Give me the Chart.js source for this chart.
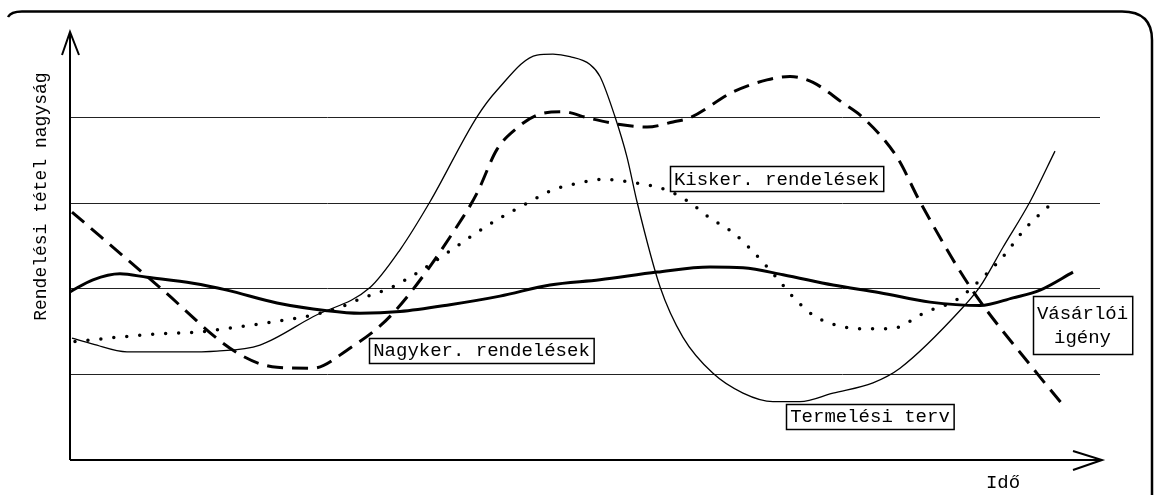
<html lang="hu">
<head>
	<meta charset="UTF-8">
	<title>Rendelési tétel nagyság</title>
	<style>
		html, body { margin: 0; padding: 0; background: #fff; }
		#chartBox { width: 1155px; height: 495px; position: relative; }
	</style>
</head>
<body>
	<div id="chartBox"><canvas id="lineChart"></canvas></div>

	<script src="https://cdn.jsdelivr.net/npm/chart.js"></script>
	<script>
		// idő tengely 0..103, érték tengely 0..5 (rácsvonalak 1..4-nél)
		const termelesX = [0.2, 2.3, 5.7, 11, 14.7, 19, 24.3, 30, 33, 36, 40.7, 42.7, 46.7, 48.3, 50, 52, 53, 54.5, 55.7, 56.7, 59, 61.3, 64.3, 67.3, 70.3, 73, 76.3, 80.3, 83, 89.3, 91, 93.3, 96, 98.5];
		const termelesY = [1.42, 1.35, 1.26, 1.26, 1.27, 1.34, 1.67, 2.01, 2.45, 3.01, 4.0, 4.31, 4.72, 4.73, 4.70, 4.61, 4.47, 4.0, 3.53, 3.01, 2.02, 1.43, 1.01, 0.78, 0.68, 0.68, 0.78, 0.90, 1.07, 1.78, 2.02, 2.48, 3.01, 3.60];

		const nagykerX = [0.2, 9, 16.7, 20.7, 24.3, 27.7, 32.3, 39.3, 40.7, 42.7, 44.7, 46.7, 49.3, 51.7, 55, 57.7, 60.3, 62, 66.3, 69.7, 72, 74.3, 77.3, 79.3, 82.7, 85, 90, 96.7, 99.3];
		const nagykerY = [2.89, 2.01, 1.25, 1.08, 1.07, 1.28, 1.71, 2.83, 3.11, 3.62, 3.87, 4.02, 4.06, 3.99, 3.91, 3.88, 3.94, 3.99, 4.29, 4.43, 4.47, 4.40, 4.16, 3.99, 3.53, 3.01, 2.02, 1.01, 0.64];

		const kiskerX = [0.5, 4.7, 9, 12.7, 16.7, 20.3, 24.3, 27, 29.3, 32.3, 42.7, 46, 48.3, 51, 53.3, 56, 58.7, 60, 62, 64, 66.3, 68.3, 70.7, 72.3, 74.3, 76.7, 79.3, 82, 85.7, 88.7, 91.3, 93.3, 95.7, 97.8];
		const kiskerY = [1.38, 1.43, 1.47, 1.49, 1.55, 1.61, 1.69, 1.78, 1.89, 2.02, 2.80, 3.01, 3.15, 3.23, 3.27, 3.24, 3.18, 3.13, 3.00, 2.82, 2.65, 2.43, 2.12, 1.90, 1.69, 1.57, 1.53, 1.53, 1.73, 1.87, 2.13, 2.37, 2.72, 2.95];

		const igenyX = [0, 2.3, 5, 7.7, 12.3, 15.7, 20.7, 25.7, 29, 33, 38, 43, 48, 53, 58.7, 64, 67.3, 71.3, 76.3, 81, 86, 91, 94.3, 97, 100.3];
		const igenyY = [1.96, 2.10, 2.17, 2.13, 2.06, 1.98, 1.83, 1.74, 1.71, 1.73, 1.81, 1.91, 2.04, 2.10, 2.19, 2.25, 2.24, 2.16, 2.04, 1.95, 1.84, 1.80, 1.89, 1.98, 2.19];

		const gridValues = [1, 2, 3, 4];

		// feliratok (szöveg, középpont az adatkoordinátákban)
		const labelTexts = [['Nagyker. rendelések'], ['Kisker. rendelések'], ['Termelési terv'], ['Vásárlói', 'igény']];
		const labelX = [41.15, 70.65, 80, 101.25];
		const labelY = [1.28, 3.28, 0.51, 1.57];

		const axisTitleY = 'Rendelési tétel nagyság';
		const axisTitleX = 'Idő';

		function toPoints(xs, ys) {
			return xs.map((x, i) => ({ x: x, y: ys[i] }));
		}

		const monoFont = '"Liberation Mono", "DejaVu Sans Mono", monospace';

		const decorPlugin = {
			id: 'decor',
			beforeDatasetsDraw(chart) {
				const ctx = chart.ctx;
				const xs = chart.scales.x, ys = chart.scales.y;
				const left = xs.getPixelForValue(0), right = chart.chartArea.right;
				const bottom = ys.getPixelForValue(0), top = ys.getPixelForValue(5);
				ctx.save();
				// keret (felül és jobb oldalt lekerekítve)
				ctx.strokeStyle = '#000';
				ctx.lineWidth = 2.5;
				ctx.beginPath();
				ctx.moveTo(8, 17);
				ctx.quadraticCurveTo(11, 11.5, 22, 11.5);
				ctx.lineTo(1122, 11.5);
				ctx.quadraticCurveTo(1152, 11.5, 1152, 40);
				ctx.lineTo(1152, 495);
				ctx.stroke();
				// rácsvonalak
				ctx.strokeStyle = '#222';
				ctx.lineWidth = 1;
				gridValues.forEach(v => {
					const py = Math.round(ys.getPixelForValue(v)) + 0.5;
					ctx.beginPath();
					ctx.moveTo(left, py);
					ctx.lineTo(right, py);
					ctx.stroke();
				});
				// tengelyek nyíllal
				ctx.strokeStyle = '#000';
				ctx.lineWidth = 2;
				ctx.beginPath();
				ctx.moveTo(left, bottom);
				ctx.lineTo(left, top + 1);
				ctx.moveTo(left - 8, top + 24);
				ctx.lineTo(left, top + 1);
				ctx.lineTo(left + 9, top + 24);
				ctx.moveTo(left, bottom);
				ctx.lineTo(right + 2, bottom);
				ctx.moveTo(right - 27, bottom - 9);
				ctx.lineTo(right + 2, bottom);
				ctx.lineTo(right - 27, bottom + 10);
				ctx.stroke();
				// tengelyfeliratok
				ctx.fillStyle = '#000';
				ctx.font = '19px ' + monoFont;
				ctx.textAlign = 'center';
				ctx.textBaseline = 'middle';
				ctx.fillText(axisTitleX, right - 97, bottom + 23);
				ctx.font = '18px ' + monoFont;
				ctx.translate(left - 29, ys.getPixelForValue(3.07));
				ctx.rotate(-Math.PI / 2);
				ctx.fillText(axisTitleY, 0, 0);
				ctx.restore();
			},
			afterDatasetsDraw(chart) {
				const ctx = chart.ctx;
				const xs = chart.scales.x, ys = chart.scales.y;
				ctx.save();
				ctx.font = '19px ' + monoFont;
				ctx.textAlign = 'center';
				ctx.textBaseline = 'middle';
				labelTexts.forEach((lines, i) => {
					const cx = xs.getPixelForValue(labelX[i]);
					const cy = ys.getPixelForValue(labelY[i]);
					const w = Math.max(...lines.map(t => ctx.measureText(t).width)) + 8;
					const lh = 24;
					const h = lines.length * lh + (lines.length > 1 ? 10 : 1);
					const bx = Math.round(cx - w / 2) + 0.5, by = Math.round(cy - h / 2) + 0.5;
					ctx.fillStyle = '#fff';
					ctx.fillRect(bx, by, w, h);
					ctx.strokeStyle = '#000';
					ctx.lineWidth = 1.5;
					ctx.strokeRect(bx, by, w, h);
					ctx.fillStyle = '#000';
					lines.forEach((t, j) => {
						ctx.fillText(t, cx, cy + (j - (lines.length - 1) / 2) * lh + 1);
					});
				});
				ctx.restore();
			}
		};

		function createChart() {
			const ctx = document.getElementById('lineChart').getContext('2d');
			new Chart(ctx, {
				type: 'line',
				data: {
					datasets: [
						{
							label: 'Termelési terv',
							data: toPoints(termelesX, termelesY),
							borderColor: '#000',
							borderWidth: 1.3,
							cubicInterpolationMode: 'monotone'
						},
						{
							label: 'Nagyker. rendelések',
							data: toPoints(nagykerX, nagykerY),
							borderColor: '#000',
							borderWidth: 3,
							borderDash: [16, 9],
							cubicInterpolationMode: 'monotone'
						},
						{
							label: 'Kisker. rendelések',
							data: toPoints(kiskerX, kiskerY),
							borderColor: '#000',
							borderWidth: 3.5,
							borderDash: [0, 13],
							borderCapStyle: 'round',
							cubicInterpolationMode: 'monotone'
						},
						{
							label: 'Vásárlói igény',
							data: toPoints(igenyX, igenyY),
							borderColor: '#000',
							borderWidth: 3,
							cubicInterpolationMode: 'monotone'
						}
					]
				},
				options: {
					responsive: true,
					maintainAspectRatio: false,
					animation: false,
					layout: { padding: { left: 70, right: 55, top: 31, bottom: 35 } },
					elements: { point: { radius: 0 } },
					scales: {
						x: { type: 'linear', min: 0, max: 103, display: false },
						y: { min: 0, max: 5, display: false }
					},
					plugins: {
						legend: { display: false },
						tooltip: { enabled: false }
					}
				},
				plugins: [decorPlugin]
			});
		}

		createChart();
	</script>
</body>
</html>
